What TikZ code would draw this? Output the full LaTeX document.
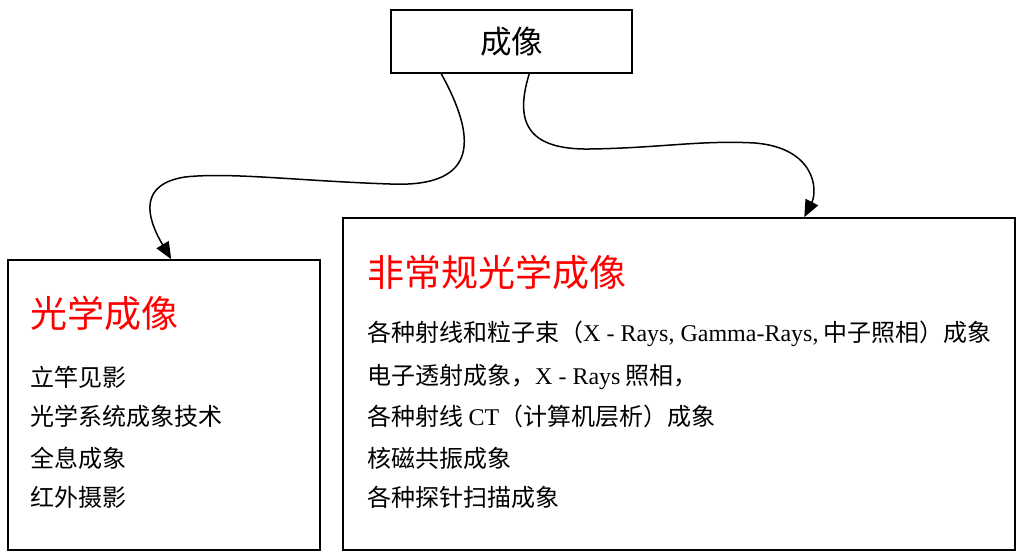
\documentclass[tikz,border=0pt]{standalone}
\usepackage{fontspec}
\setmainfont{Liberation Serif}
\newfontfamily\cjk{Noto Sans CJK SC}
\usetikzlibrary{arrows.meta,calc}
\begin{document}
\begin{tikzpicture}[x=1pt,y=-1pt,
  box/.style={draw,line width=1.5pt,inner sep=0pt},
  headtxt/.style={anchor=west,inner sep=0pt,text=red,font=\cjk\fontsize{37}{37}\selectfont},
  itemtxt/.style={anchor=west,inner sep=0pt,font=\cjk\fontsize{24}{24}\selectfont},
  conn/.style={line width=1.5pt,-{Triangle[length=17pt,width=14pt]}}]
\useasboundingbox (0,0) rectangle (1016,556);
\node[box,minimum width=241pt,minimum height=63pt,font=\cjk\fontsize{31.5}{31.5}\selectfont] (top) at (511.5,41.5) {成像};
\node[box,minimum width=312pt,minimum height=290pt] (left) at (164,405) {};
\node[box,minimum width=672pt,minimum height=332pt] (right) at (679,384) {};
% left box texts
\node[headtxt] (lh) at (30,313) {光学成像};
\node[itemtxt] (l1) at (30,377) {立竿见影};
\node[itemtxt] (l2) at (30,416) {光学系统成象技术};
\node[itemtxt] (l3) at (30,458) {全息成象};
\node[itemtxt] (l4) at (30,497) {红外摄影};
% right box texts
\node[headtxt] (rh) at (367,272) {非常规光学成像};
\node[itemtxt] (r1) at (367,334) {各种射线和粒子束（{\rmfamily X - Rays, Gamma-Rays,} 中子照相）成象};
\node[itemtxt] (r2) at (367,377) {电子透射成象，{\rmfamily X - Rays} 照相，};
\node[itemtxt] (r3) at (367,416) {各种射线 {\rmfamily CT}（计算机层析）成象};
\node[itemtxt] (r4) at (367,458) {核磁共振成象};
\node[itemtxt] (r5) at (367,497) {各种探针扫描成象};
% connectors
\coordinate (s1) at ($(top.south west)+(51,0)$);
\coordinate (e1) at ($(left.north west)+(164,0)$);
\coordinate (s2) at ($(top.south west)+(139,0)$);
\coordinate (e2) at ($(right.north west)+(462,0)$);
\draw[conn] (s1) .. controls (475,135) and (482,188) .. (390,184)
  .. controls (300,181) and (230,172) .. (185,177)
  .. controls (140,184) and (145,215) .. (e1);
\draw[conn] (s2) .. controls (515,120) and (525,150) .. (590,149)
  .. controls (660,148) and (700,140) .. (755,143)
  .. controls (815,148) and (818,190) .. (e2);
\end{tikzpicture}
\end{document}
